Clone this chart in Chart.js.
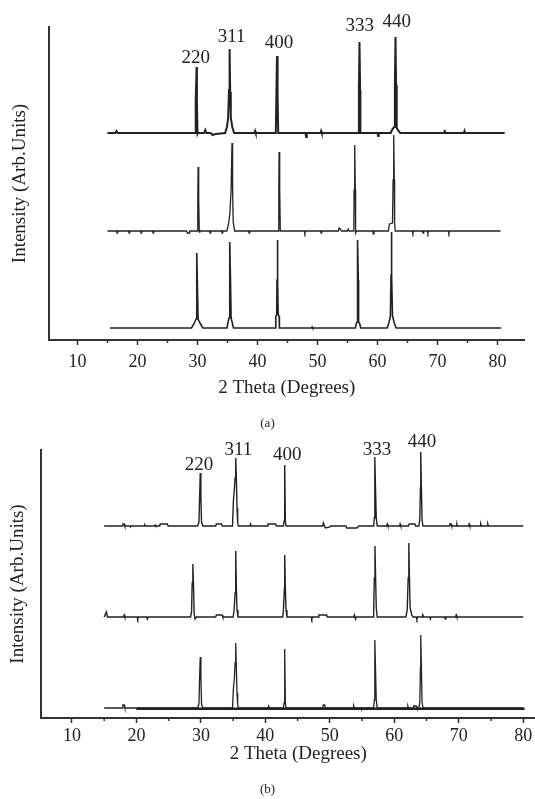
<!DOCTYPE html>
<html>
<head>
<meta charset="utf-8">
<script src="https://cdn.jsdelivr.net/npm/chart.js@4.4.1/dist/chart.umd.min.js"></script>
<style>
  html, body { margin: 0; padding: 0; background: #fff; width: 535px; height: 799px; overflow: hidden; }
  #wrap { position: relative; width: 535px; height: 799px; overflow: hidden; }
  canvas { position: absolute; left: 0; }
  #cA { top: 0; }
  #cB { top: 425px; }
  .cap { position: absolute; width: 535px; text-align: center; font-family: 'Liberation Serif', serif; font-size: 13px; color: #222; }
</style>
</head>
<body>
<div id="wrap">
  <canvas id="cA" width="535" height="410"></canvas>
  <canvas id="cB" width="566" height="374"></canvas>
  <div class="cap" style="top:415px;">(a)</div>
  <div class="cap" style="top:781px;">(b)</div>
</div>
<script>
// ---------- DATA (2θ in degrees, intensity in arbitrary units, traces already stacked) ----------
const xTickLabels = [10, 20, 30, 40, 50, 60, 70, 80];
const xMinorTicks = [15, 25, 35, 45, 55, 65, 75];
const hklLabels = ['220', '311', '400', '333', '440'];

// Panel (a)
const traceA1 = [
  [15.0,207],[16.3,207],[16.5,209],[16.7,207],[29.6,207],[29.7,240],[29.85,273],[29.9,240],[30.0,206],[30.1,207],
  [31.1,207],[31.3,210],[31.5,207],[32.2,207],[32.5,205],[33.0,206],[34.6,207],[34.9,213],[35.1,221],[35.25,250],
  [35.35,291],[35.45,248],[35.55,222],[35.8,213],[36.1,207],[39.5,207],[39.6,209],[39.7,207],
  [43.05,207],[43.15,246],[43.25,284],[43.35,246],[43.45,207],[48.0,207],[48.1,203],[48.2,207],
  [50.5,207],[50.6,209],[50.7,207],[56.8,207],[56.9,252],[57.0,298],[57.1,250],[57.15,207],
  [60.0,207],[60.1,204],[60.2,207],[62.2,207],[62.5,211],[62.8,213],[62.9,255],[63.0,303],[63.1,255],[63.2,212],
  [63.5,209],[63.8,207],[71.1,207],[71.2,210],[71.3,207],[74.4,207],[74.5,209],[74.6,207],[81.2,207]
];
const traceA2 = [
  [15,109],[16.5,109],[16.6,107],[16.7,109],[18.5,109],[18.6,107],[18.7,109],[20.5,109],[20.6,107],[20.7,109],
  [22.5,109],[22.6,107],[22.7,109],[28.2,109],[28.3,107],[28.6,107],[28.7,109],
  [29.95,109],[30.05,140],[30.1,173],[30.2,140],[30.3,108],[30.4,109],
  [32.0,109],[32.1,107],[32.2,109],[34.0,109],[34.1,107],[34.2,109],[34.9,109],[35.2,117],[35.4,127],[35.6,150],
  [35.75,197],[35.85,150],[35.95,118],[36.2,109],[38.5,109],[38.6,107],[38.7,109],
  [43.45,109],[43.55,150],[43.6,188],[43.7,150],[43.8,109],[47.8,109],[47.9,107],[48.0,109],[50.5,109],[50.6,107],[50.7,109],
  [53.5,109],[53.6,112],[53.8,111],[54.0,109],[55.0,109],[55.1,111],[55.3,109],
  [56.05,109],[56.1,150],[56.2,195],[56.3,150],[56.35,107],[56.5,109],[59.2,109],[59.3,106],[59.4,109],
  [61.8,109],[62.0,116],[62.5,117],[62.6,160],[62.7,205],[62.8,160],[62.85,117],[62.95,109],
  [65.8,109],[65.9,107],[66.0,109],[67.5,109],[67.6,107],[67.7,109],[68.3,109],[68.4,107],[68.5,109],
  [71.8,109],[71.9,107],[72.0,109],[80.5,109]
];
const traceA3 = [
  [15.4,12],[29.0,12],[29.4,16],[29.75,21],[29.85,50],[29.9,87],[30.0,50],[30.1,21],[30.5,16],[30.9,12],
  [34.9,12],[35.1,18],[35.25,22],[35.35,60],[35.4,98],[35.5,60],[35.6,22],[35.8,17],[36.0,12],
  [43.0,12],[43.05,24],[43.2,25],[43.25,60],[43.3,100],[43.4,60],[43.45,25],[43.6,24],[43.65,12],
  [49.0,12],[49.1,13],[49.2,12],
  [56.3,12],[56.5,17],[56.6,18],[56.65,60],[56.7,100],[56.8,60],[56.85,18],[57.0,17],[57.2,12],
  [61.6,12],[61.9,17],[62.15,24],[62.25,65],[62.3,108],[62.4,65],[62.5,24],[62.8,17],[63.1,12],
  [80.6,12]
];
const hklPosA = [[29.7,282],[35.7,303],[43.6,297],[57.05,314],[63.2,318]];

// Panel (b)
const traceB1 = [
  [15,192],[17.8,192],[17.9,194],[18.1,194],[18.2,192],[19,192],[19.1,191],[19.2,192],[21.2,192],[21.3,193],[21.4,192],
  [22.8,192],[22.9,193],[23.0,192],[23.6,192],[23.7,194],[24.8,194],[24.9,192],
  [29.5,192],[29.7,196],[29.8,220],[29.9,245],[30.0,220],[30.1,196],[30.3,192],
  [32.3,192],[32.4,194],[33.2,194],[33.3,192],
  [34.9,192],[35.05,218],[35.2,230],[35.3,240],[35.4,260],[35.5,240],[35.6,210],[35.7,196],[35.8,192],
  [37.6,192],[37.7,194],[37.8,192],[40.3,192],[40.4,194],[41.6,194],[41.7,192],
  [42.8,192],[42.9,197],[43.0,253],[43.1,197],[43.2,192],
  [48.9,192],[49.0,195],[49.3,190],[50.0,191],[50.1,192],[52.5,192],[52.6,190],[54.2,190],[54.5,192],
  [56.8,192],[56.9,200],[56.95,225],[57.0,261],[57.1,225],[57.2,200],[57.35,192],
  [58.8,192],[58.9,194],[59.0,192],[60.8,192],[60.9,194],[61.0,192],[62.2,192],[62.3,194],[63.2,194],[63.3,192],
  [63.8,192],[63.95,198],[64.05,230],[64.1,266],[64.2,230],[64.3,198],[64.45,192],
  [68.5,192],[68.6,194],[68.8,194],[68.9,192],[69.6,192],[69.7,194],[69.8,192],[71.5,192],[71.6,194],[71.7,192],
  [73.3,192],[73.4,194],[73.5,192],[74.4,192],[74.5,194],[74.6,192],[80,192]
];
const traceB2 = [
  [15,101],[15.2,104],[15.35,106],[15.5,101],[15.7,101],[18.0,101],[18.1,103],[18.2,101],[20.1,101],[20.2,99],[20.3,101],
  [21.6,101],[21.7,99],[21.8,101],
  [28.4,101],[28.55,106],[28.65,135],[28.75,154],[28.85,135],[28.95,104],[29.1,99],[29.3,101],
  [32.3,101],[32.4,103],[33.3,103],[33.4,101],
  [35.0,101],[35.15,108],[35.3,125],[35.4,167],[35.5,130],[35.6,108],[35.75,101],
  [42.7,101],[42.8,108],[42.95,130],[43.0,163],[43.1,130],[43.2,108],[43.35,101],
  [47.1,101],[47.2,99],[47.3,101],[48.2,101],[48.3,103],[49.5,103],[49.6,101],[53.7,101],[53.8,103],[54.0,99],[54.1,101],
  [56.7,101],[56.8,110],[56.9,140],[57.0,172],[57.1,140],[57.2,110],[57.35,101],
  [61.8,101],[62.0,108],[62.15,140],[62.25,175],[62.35,140],[62.45,110],[62.7,103],[62.9,101],
  [63.4,101],[63.5,99],[63.6,101],[64.3,101],[64.4,103],[64.6,101],[65.5,101],[65.6,99],[65.7,101],
  [67.8,101],[67.9,99],[68.0,101],[69.5,101],[69.6,103],[69.7,101],[80,101]
];
const traceB3 = [
  [15,10],[17.8,10],[17.9,13],[18.1,13],[18.2,10],
  [29.5,10],[29.7,14],[29.8,40],[29.9,61],[30.0,40],[30.1,14],[30.3,10],
  [34.9,10],[35.05,30],[35.2,40],[35.3,55],[35.4,75],[35.5,50],[35.6,25],[35.7,14],[35.8,10],
  [40.4,10],[40.5,12],[40.6,10],
  [42.8,10],[42.9,15],[43.0,69],[43.1,15],[43.2,10],
  [48.9,10],[49.0,13],[49.2,13],[49.3,10],[53.6,10],[53.7,12],[53.8,10],[54.8,10],[54.9,8],[55.0,10],
  [56.8,10],[56.9,18],[56.95,45],[57.0,78],[57.1,45],[57.2,18],[57.35,10],
  [62.0,10],[62.1,12],[62.2,10],[62.9,10],[63.0,12],[63.4,12],[63.5,10],
  [63.8,10],[63.95,16],[64.05,50],[64.1,83],[64.2,50],[64.3,16],[64.45,10],
  [80,10]
];
const traceB3base = [[20,9.2],[80.2,9.2]];
const hklPosB = [[29.7,253],[35.8,268],[43.4,263],[57.3,268],[64.3,276]];

// ---------- RENDERING ----------
const FONT = "'Liberation Serif', 'Times New Roman', serif";
const INK = '#222';
const AXIS = '#333';

const hklPlugin = {
  id: 'hkl',
  afterDatasetsDraw(chart, args, opts) {
    const {ctx, scales: {x, y}} = chart;
    ctx.save();
    ctx.fillStyle = INK;
    ctx.font = `19px ${FONT}`;
    ctx.textAlign = 'center';
    ctx.textBaseline = 'middle';
    opts.pos.forEach((p, i) => ctx.fillText(hklLabels[i], x.getPixelForValue(p[0]), y.getPixelForValue(p[1])));
    ctx.restore();
  }
};
const minorTickPlugin = {
  id: 'minorTicks',
  afterDraw(chart) {
    const {ctx, chartArea, scales: {x}} = chart;
    ctx.save();
    ctx.strokeStyle = AXIS;
    ctx.lineWidth = 1.5;
    xMinorTicks.forEach(v => {
      const px = x.getPixelForValue(v);
      ctx.beginPath();
      ctx.moveTo(px, chartArea.bottom);
      ctx.lineTo(px, chartArea.bottom + 3);
      ctx.stroke();
    });
    ctx.restore();
  }
};

function ds(data, width) {
  return { data, borderColor: INK, borderWidth: width, pointRadius: 0, tension: 0, fill: false, borderJoinStyle: 'miter' };
}

function makeChart(id, cfg) {
  return new Chart(document.getElementById(id), {
    type: 'line',
    data: { datasets: cfg.datasets },
    plugins: [hklPlugin, minorTickPlugin],
    options: {
      responsive: false, animation: false, devicePixelRatio: 1,
      parsing: true,
      layout: { padding: { top: cfg.padTop, right: cfg.padRight, bottom: 0, left: 0 } },
      plugins: { legend: { display: false }, tooltip: { enabled: false }, hkl: { pos: cfg.hkl } },
      scales: {
        x: {
          type: 'linear', min: cfg.xmin, max: cfg.xmax,
          afterBuildTicks: s => { s.ticks = xTickLabels.map(v => ({ value: v })); },
          afterFit: s => { s.height = cfg.xHeight; },
          ticks: { font: { family: FONT, size: 18 }, color: INK, padding: cfg.tickPad, maxRotation: 0, autoSkip: false },
          grid: { drawOnChartArea: false, drawTicks: true, tickLength: 5, tickColor: AXIS, tickWidth: 1.5 },
          border: { display: true, color: AXIS, width: 2 },
          title: { display: true, text: '2 Theta (Degrees)', color: INK, font: { family: FONT, size: 19, lineHeight: 1.2 }, padding: { top: 0, bottom: cfg.xTitlePad } }
        },
        y: {
          min: 0, max: cfg.ymax,
          afterFit: s => { s.width = cfg.yWidth; },
          ticks: { display: false },
          grid: { display: false },
          border: { display: true, color: AXIS, width: 2 },
          title: { display: true, text: 'Intensity (Arb.Units)', color: INK, font: { family: FONT, size: 19, lineHeight: 1.2 }, padding: { top: cfg.yTitlePad, bottom: 0 } }
        }
      }
    }
  });
}

makeChart('cA', {
  datasets: [ds(traceA1, 2), ds(traceA2, 1.3), ds(traceA3, 1.6)],
  hkl: hklPosA, xmin: 5.25, xmax: 84.5, ymax: 313,
  padTop: 27, padRight: 10.5, xHeight: 70, yWidth: 49, tickPad: 6, xTitlePad: 10.6, yTitlePad: 8.6
});
makeChart('cB', {
  datasets: [ds(traceB1, 1.4), ds(traceB2, 1.4), ds(traceB3, 1.3), ds(traceB3base, 2.4)],
  hkl: hklPosB, xmin: 5.2, xmax: 85, ymax: 268,
  padTop: 25, padRight: 10.5, xHeight: 81, yWidth: 41, tickPad: 2, xTitlePad: 33.6, yTitlePad: 6.6
});
</script>
</body>
</html>
